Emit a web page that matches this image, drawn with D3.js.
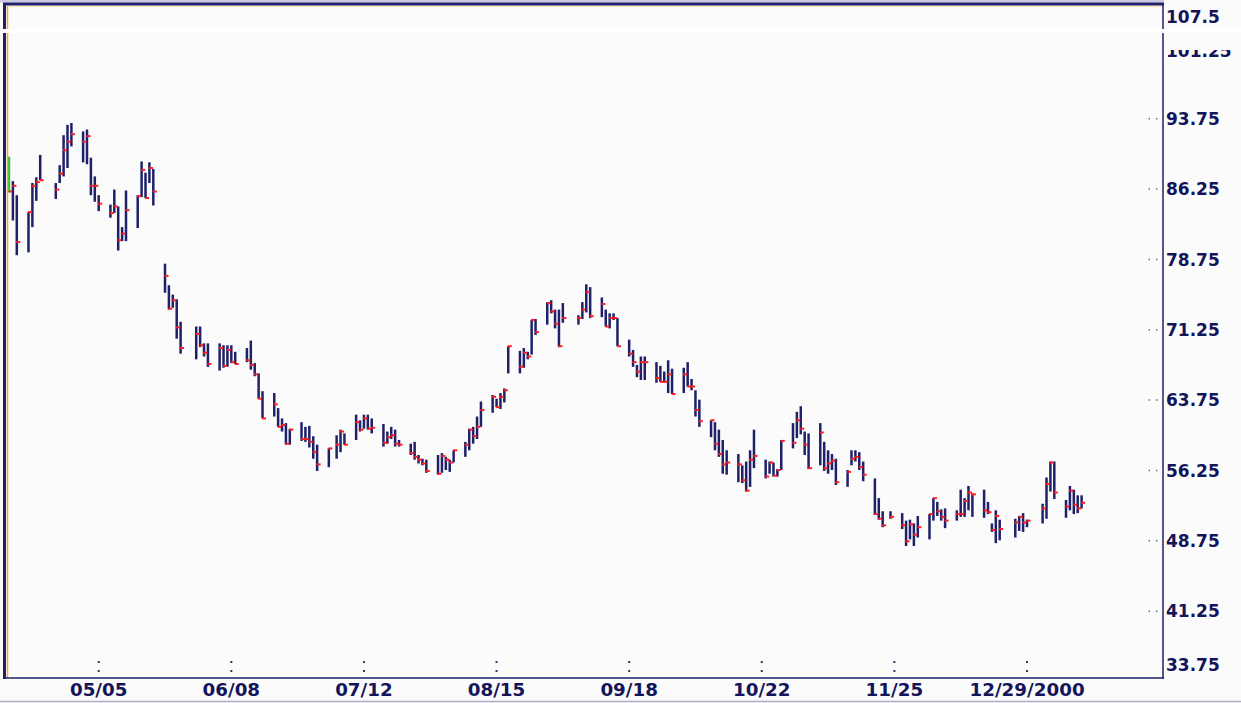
<!DOCTYPE html>
<html>
<head>
<meta charset="utf-8">
<script src="https://cdn.jsdelivr.net/npm/d3@7"></script>
<style>
  html, body { margin: 0; padding: 0; background: #fbfbfb; }
  svg { display: block; }
  text { font-family: "DejaVu Sans", Verdana, sans-serif; font-weight: bold; fill: #14145a; }
</style>
</head>
<body>
<svg width="1241" height="703"></svg>
<script>
// daily trading sessions, one row per week
const dates = [
  '2000-04-12', '2000-04-13', '2000-04-14',
  '2000-04-17', '2000-04-18', '2000-04-19', '2000-04-20',
  '2000-04-24', '2000-04-25', '2000-04-26', '2000-04-27', '2000-04-28',
  '2000-05-01', '2000-05-02', '2000-05-03', '2000-05-04', '2000-05-05',
  '2000-05-08', '2000-05-09', '2000-05-10', '2000-05-11', '2000-05-12',
  '2000-05-15', '2000-05-16', '2000-05-17', '2000-05-18', '2000-05-19',
  '2000-05-22', '2000-05-23', '2000-05-24', '2000-05-25', '2000-05-26',
  '2000-05-30', '2000-05-31', '2000-06-01', '2000-06-02',
  '2000-06-05', '2000-06-06', '2000-06-07', '2000-06-08', '2000-06-09',
  '2000-06-12', '2000-06-13', '2000-06-14', '2000-06-15', '2000-06-16',
  '2000-06-19', '2000-06-20', '2000-06-21', '2000-06-22', '2000-06-23',
  '2000-06-26', '2000-06-27', '2000-06-28', '2000-06-29', '2000-06-30',
  '2000-07-03', '2000-07-05', '2000-07-06', '2000-07-07',
  '2000-07-10', '2000-07-11', '2000-07-12', '2000-07-13', '2000-07-14',
  '2000-07-17', '2000-07-18', '2000-07-19', '2000-07-20', '2000-07-21',
  '2000-07-24', '2000-07-25', '2000-07-26', '2000-07-27', '2000-07-28',
  '2000-07-31', '2000-08-01', '2000-08-02', '2000-08-03', '2000-08-04',
  '2000-08-07', '2000-08-08', '2000-08-09', '2000-08-10', '2000-08-11',
  '2000-08-14', '2000-08-15', '2000-08-16', '2000-08-17', '2000-08-18',
  '2000-08-21', '2000-08-22', '2000-08-23', '2000-08-24', '2000-08-25',
  '2000-08-28', '2000-08-29', '2000-08-30', '2000-08-31', '2000-09-01',
  '2000-09-05', '2000-09-06', '2000-09-07', '2000-09-08',
  '2000-09-11', '2000-09-12', '2000-09-13', '2000-09-14', '2000-09-15',
  '2000-09-18', '2000-09-19', '2000-09-20', '2000-09-21', '2000-09-22',
  '2000-09-25', '2000-09-26', '2000-09-27', '2000-09-28', '2000-09-29',
  '2000-10-02', '2000-10-03', '2000-10-04', '2000-10-05', '2000-10-06',
  '2000-10-09', '2000-10-10', '2000-10-11', '2000-10-12', '2000-10-13',
  '2000-10-16', '2000-10-17', '2000-10-18', '2000-10-19', '2000-10-20',
  '2000-10-23', '2000-10-24', '2000-10-25', '2000-10-26', '2000-10-27',
  '2000-10-30', '2000-10-31', '2000-11-01', '2000-11-02', '2000-11-03',
  '2000-11-06', '2000-11-07', '2000-11-08', '2000-11-09', '2000-11-10',
  '2000-11-13', '2000-11-14', '2000-11-15', '2000-11-16', '2000-11-17',
  '2000-11-20', '2000-11-21', '2000-11-22', '2000-11-24',
  '2000-11-27', '2000-11-28', '2000-11-29', '2000-11-30', '2000-12-01',
  '2000-12-04', '2000-12-05', '2000-12-06', '2000-12-07', '2000-12-08',
  '2000-12-11', '2000-12-12', '2000-12-13', '2000-12-14', '2000-12-15',
  '2000-12-18', '2000-12-19', '2000-12-20', '2000-12-21', '2000-12-22',
  '2000-12-26', '2000-12-27', '2000-12-28', '2000-12-29',
  '2001-01-02', '2001-01-03', '2001-01-04', '2001-01-05',
  '2001-01-08', '2001-01-09', '2001-01-10', '2001-01-11', '2001-01-12'
]

const highs = [
  89.7, 87.1, 85.6,
  83.8, 86.9, 87.5, 89.9,
  86.9, 88.8, 92.0, 93.1, 93.3,
  92.4, 92.6, 89.6, 87.6, 85.6,
  84.6, 86.2, 84.4, 82.2, 86.1,
  85.6, 89.2, 88.0, 89.1, 88.4,
  78.3, 76.0, 75.0, 74.5, 72.1,
  71.6, 71.6, 69.8, 69.8,
  69.8, 69.6, 69.6, 69.6, 68.9,
  69.3, 70.1, 67.7, 66.6, 64.7,
  64.5, 62.9, 61.8, 61.3, 60.7,
  61.4, 60.9, 61.0, 59.9, 59.0,
  58.6, 60.0, 60.6, 60.2,
  62.2, 61.6, 62.2, 62.2, 61.8,
  61.2, 60.4, 60.9, 60.6, 59.5,
  59.1, 59.3, 57.9, 57.5, 57.4,
  57.9, 58.1, 57.7, 57.4, 58.4,
  59.3, 60.7, 60.9, 62.0, 63.6,
  64.3, 63.9, 64.5, 65.0, 69.5,
  69.0, 69.3, 68.9, 72.3, 72.4,
  74.2, 74.4, 73.4, 73.4, 74.1,
  72.8, 74.2, 76.1, 75.8,
  74.7, 73.4, 73.0, 73.0, 72.5,
  70.2, 69.1, 67.5, 68.4, 68.4,
  67.8, 67.4, 66.8, 68.0, 67.1,
  67.2, 67.8, 66.0, 64.8, 63.8,
  61.6, 61.4, 60.6, 59.5, 58.4,
  58.0, 56.8, 57.2, 58.4, 60.6,
  57.4, 57.2, 57.1, 56.4, 59.5,
  61.3, 62.5, 63.1, 60.4, 60.2,
  61.3, 59.3, 58.4, 58.0, 57.5,
  56.3, 58.4, 58.4, 58.2, 57.2,
  55.4, 53.3, 51.9, 51.9,
  51.7, 50.9, 51.0, 50.6, 51.4,
  51.6, 53.3, 52.9, 52.1, 52.2,
  52.0, 54.2, 53.3, 54.6, 53.8,
  54.2, 52.9, 50.6, 52.0, 51.0,
  51.1, 51.4, 51.7, 51.0,
  52.7, 55.5, 57.2, 57.2,
  53.1, 54.6, 54.2, 53.6, 53.6
]

const lows = [
  85.9, 82.9, 79.2,
  79.5, 82.2, 85.0, 87.2,
  85.2, 86.9, 87.6, 88.5, 90.8,
  89.1, 88.9, 85.6, 84.9, 83.9,
  83.2, 83.7, 79.7, 80.7, 80.7,
  82.1, 85.4, 85.3, 86.9, 84.5,
  75.2, 73.4, 73.6, 70.3, 68.7,
  68.1, 69.4, 68.4, 67.3,
  66.9, 67.2, 67.3, 67.7, 67.6,
  67.8, 67.0, 66.3, 63.9, 61.8,
  62.0, 60.9, 60.4, 59.0, 59.0,
  59.4, 59.3, 58.7, 57.5, 56.2,
  56.6, 57.5, 58.2, 59.0,
  59.5, 60.4, 60.7, 60.6, 60.2,
  58.8, 59.1, 59.6, 58.8, 58.8,
  57.9, 57.4, 57.0, 56.8, 56.0,
  55.8, 56.0, 56.3, 56.1, 57.1,
  57.7, 58.4, 59.1, 59.6, 60.9,
  62.4, 63.0, 62.8, 63.5, 66.6,
  66.6, 67.2, 68.1, 68.6, 70.7,
  71.8, 73.0, 71.4, 69.4, 72.0,
  71.8, 72.4, 73.1, 72.5,
  72.6, 71.6, 71.4, 72.3, 69.5,
  68.4, 67.3, 66.2, 65.9, 65.9,
  65.6, 65.7, 65.6, 64.5, 64.4,
  64.5, 65.2, 64.8, 62.0, 60.9,
  59.8, 58.4, 57.7, 55.9, 55.8,
  55.0, 54.9, 54.0, 54.5, 56.5,
  55.4, 55.9, 55.6, 55.6, 56.3,
  58.6, 59.7, 60.1, 57.9, 56.4,
  56.8, 56.2, 55.9, 56.3, 54.7,
  54.5, 56.8, 57.2, 56.3, 55.1,
  51.5, 51.0, 50.2, 51.1,
  50.0, 48.2, 48.9, 48.2, 49.1,
  48.9, 50.9, 51.4, 50.9, 50.1,
  50.9, 51.3, 51.3, 52.0, 51.3,
  51.2, 51.6, 49.7, 48.5, 48.8,
  49.1, 49.8, 49.7, 50.2,
  50.6, 51.1, 54.0, 53.2,
  51.2, 52.0, 51.6, 51.7, 52.2
]

const closes = [
  86.0, 86.6, 80.6,
  83.8, 86.6, 87.0, 87.2,
  86.2, 87.9, 90.4, 91.3, 92.1,
  91.3, 91.9, 86.6, 86.6, 84.7,
  83.7, 84.4, 80.8, 81.5, 84.0,
  85.5, 88.3, 85.3, 88.5, 86.0,
  77.0, 73.5, 74.4, 71.5, 69.3,
  70.8, 69.6, 68.8, 67.6,
  69.3, 67.4, 69.1, 67.8, 67.6,
  68.0, 67.5, 66.5, 63.9, 61.8,
  63.3, 60.9, 61.1, 59.1, 60.6,
  59.6, 59.6, 59.3, 58.2, 56.9,
  58.6, 59.0, 60.4, 59.0,
  61.4, 60.6, 61.8, 60.7, 60.8,
  59.2, 59.8, 60.0, 59.1, 59.0,
  58.1, 57.7, 57.4, 57.0, 56.2,
  55.9, 57.8, 57.4, 57.1, 58.4,
  59.0, 60.6, 59.9, 60.9, 62.7,
  64.1, 63.0, 64.1, 64.8, 69.5,
  67.3, 68.8, 68.4, 72.3, 71.0,
  74.1, 73.2, 71.9, 69.5, 72.5,
  72.5, 73.4, 75.3, 72.7,
  74.0, 71.6, 72.5, 72.5, 69.5,
  68.7, 67.8, 66.8, 67.8, 67.8,
  66.1, 65.7, 65.7, 66.5, 64.4,
  66.5, 65.2, 65.2, 62.7, 61.5,
  61.6, 59.1, 58.0, 56.9, 57.1,
  56.9, 55.2, 54.1, 57.4, 57.8,
  55.6, 57.1, 55.7, 56.3, 59.4,
  59.2, 61.6, 60.7, 59.0, 56.5,
  60.3, 56.5, 57.0, 57.3, 55.0,
  56.1, 57.5, 57.7, 56.6, 55.8,
  51.6, 51.1, 50.4, 51.3,
  50.4, 48.7, 50.5, 49.4, 50.2,
  51.6, 53.3, 51.9, 51.3, 50.9,
  51.6, 51.6, 53.0, 53.9, 53.7,
  52.0, 51.8, 49.9, 51.4, 50.0,
  50.7, 51.3, 50.7, 50.9,
  52.2, 54.8, 57.1, 53.9,
  52.4, 54.1, 52.6, 52.2, 52.8
]

const highlightDate = '2000-04-12'

const yTickValues = [107.5, 101.25, 93.75, 86.25, 78.75, 71.25, 63.75, 56.25, 48.75, 41.25, 33.75]
const xTickDates = ['2000-05-05', '2000-06-08', '2000-07-12', '2000-08-15', '2000-09-18', '2000-10-22', '2000-11-25', '2000-12-29']
const xTickLabels = ['05/05', '06/08', '07/12', '08/15', '09/18', '10/22', '11/25', '12/29/2000']

const dim = { left: 5, right: 1163, top: 5, bottom: 678 }
const navy = '#1f2168'

const parse = d3.timeParse('%Y-%m-%d')
const svg = d3.select('svg')

// calendar-day scale, anchored on two labelled dates
const x = d3.scaleTime()
    .domain([parse('2000-05-05'), parse('2000-12-29')])
    .range([98.7, 1027])

const y = d3.scaleLinear()
    .domain([34.12, 105.88])
    .range([dim.bottom, dim.top])

const bars = dates.map((d, i) => ({
    date: parse(d), key: d, high: highs[i], low: lows[i], close: closes[i]
}))

// plot background
svg.append('rect')
    .attr('x', 0).attr('y', 0).attr('width', 1241).attr('height', 703)
    .attr('fill', '#fbfbfb')

// the 101.25 label is half hidden under the seam in the capture
svg.append('clipPath').attr('id', 'label-clip')
    .append('rect')
    .attr('x', 1164).attr('y', 50).attr('width', 80).attr('height', 660)

// y tick dots and labels
const yAxis = svg.append('g').attr('class', 'price-axis')
yAxis.selectAll('line')
    .data(yTickValues.filter(v => v > 36 && v < 100))
    .join('line')
    .attr('x1', 1148.5).attr('x2', 1158)
    .attr('y1', d => y(d)).attr('y2', d => y(d))
    .attr('stroke', '#6b6b98').attr('stroke-width', 1.5)
    .attr('stroke-dasharray', '1.5,6')
yAxis.selectAll('text')
    .data(yTickValues)
    .join('text')
    .attr('x', 1166)
    .attr('y', d => d === 101.25 ? 51 : Math.max(17, Math.min(665, y(d))))
    .attr('dy', '0.36em')
    .attr('clip-path', d => d === 101.25 ? 'url(#label-clip)' : null)
    .style('font-size', '17px')
    .text(d => d)

// x tick colons and labels
const xAxis = svg.append('g').attr('class', 'date-axis')
xAxis.selectAll('line')
    .data(xTickDates)
    .join('line')
    .attr('x1', d => x(parse(d))).attr('x2', d => x(parse(d)))
    .attr('y1', 661).attr('y2', 673)
    .attr('stroke', '#34346e').attr('stroke-width', 2)
    .attr('stroke-dasharray', '2,7')
xAxis.selectAll('text')
    .data(xTickDates)
    .join('text')
    .attr('x', d => x(parse(d)))
    .attr('y', 689.5)
    .attr('dy', '0.36em')
    .attr('text-anchor', (d, i) => i === xTickDates.length - 1 ? 'start' : 'middle')
    .attr('dx', (d, i) => i === xTickDates.length - 1 ? -57.5 : 0)
    .style('font-size', '18.3px')
    .text((d, i) => xTickLabels[i])

// high-low bars with close tick
const g = svg.append('g').attr('class', 'bars')
g.selectAll('line.hl')
    .data(bars)
    .join('line')
    .attr('class', 'hl')
    .attr('x1', d => x(d.date)).attr('x2', d => x(d.date))
    .attr('y1', d => y(d.high)).attr('y2', d => y(d.low))
    .attr('stroke', d => d.key === highlightDate ? '#22c84a' : navy)
    .attr('stroke-width', 2.5)
g.selectAll('line.cl')
    .data(bars)
    .join('line')
    .attr('class', 'cl')
    .attr('x1', d => x(d.date) - 0.5).attr('x2', d => x(d.date) + 3.5)
    .attr('y1', d => y(d.close)).attr('y2', d => y(d.close))
    .attr('stroke', '#ff1e1e')
    .attr('stroke-width', 2)

// frame
svg.append('rect')
    .attr('x', 0).attr('y', 0).attr('width', dim.right + 1).attr('height', 2.5)
    .attr('fill', '#c9c9e0')
svg.append('line')
    .attr('x1', 3).attr('x2', dim.right + 1).attr('y1', 4).attr('y2', 4)
    .attr('stroke', navy).attr('stroke-width', 3)
svg.append('line')
    .attr('x1', 8).attr('x2', dim.right).attr('y1', 6.5).attr('y2', 6.5)
    .attr('stroke', '#ffe3a8').attr('stroke-width', 1)
svg.append('line')
    .attr('x1', 4.5).attr('x2', 4.5).attr('y1', 3).attr('y2', dim.bottom + 1)
    .attr('stroke', navy).attr('stroke-width', 3)
svg.append('line')
    .attr('x1', 7.5).attr('x2', 7.5).attr('y1', 6).attr('y2', dim.bottom)
    .attr('stroke', '#f7a823').attr('stroke-width', 1.5)
svg.append('line')
    .attr('x1', dim.right).attr('x2', dim.right).attr('y1', 3).attr('y2', dim.bottom + 1)
    .attr('stroke', navy).attr('stroke-width', 1.5)
svg.append('line')
    .attr('x1', 3).attr('x2', dim.right + 1).attr('y1', dim.bottom).attr('y2', dim.bottom)
    .attr('stroke', navy).attr('stroke-width', 1.5)
svg.append('line')
    .attr('x1', 0).attr('x2', 1241).attr('y1', 701.5).attr('y2', 701.5)
    .attr('stroke', '#aeaecb').attr('stroke-width', 1.5)

// white seam across the top of the capture
svg.append('rect')
    .attr('x', 0).attr('y', 29).attr('width', 1241).attr('height', 4)
    .attr('fill', '#ffffff')
</script>
</body>
</html>
